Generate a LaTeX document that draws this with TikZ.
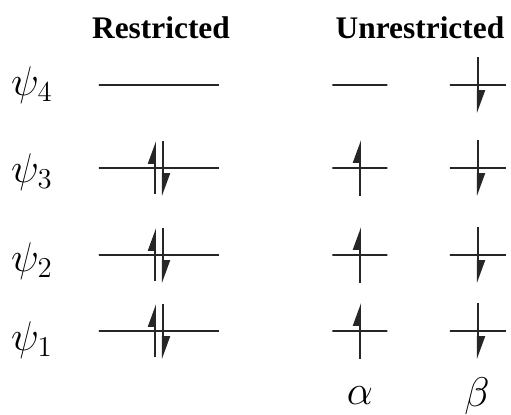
\documentclass[tikz,border=0pt]{standalone}
\usepackage{fontspec}
\setmainfont{Liberation Serif}
\usetikzlibrary{arrows.meta}
\tikzset{
 header/.style={font=\fontsize{15.7}{18}\selectfont\bfseries},
 orblabel/.style={font=\fontsize{20}{24}\selectfont},
 level/.style={draw=black!85, line width=1pt, inner sep=0pt, minimum height=0pt, minimum width=#1},
 spinarrow/.style={-{Triangle[left, length=10pt, width=7pt]}, line width=1pt, draw=black!85}
}

\begin{document}
\begin{tikzpicture}[x=0.5pt, y=-0.5pt]
 \useasboundingbox (0,0) rectangle (511,415);

 \node[header] (restr) at (161,28) {Restricted};
 \node[header] (unrestr) at (420,28) {Unrestricted};

 % orbital levels
 \foreach \i/\y/\ly in {4/85/85, 3/168/172, 2/255/261, 1/331/340} {
  \node[orblabel] (psi\i) at (32,\ly) {$\psi_\i$};
  \node[level=60pt] (r\i) at (159,\y) {};
  \node[level=27.5pt] (a\i) at (360,\y) {};
  \node[level=28pt] (b\i) at (478,\y) {};
 }

 % electrons
 \foreach \i in {3,2,1} {
  \draw[spinarrow] ([xshift=-2pt, yshift=-13pt]r\i.center) -- ([xshift=-2pt, yshift=13.5pt]r\i.center);
  \draw[spinarrow] ([xshift=2pt, yshift=13.5pt]r\i.center) -- ([xshift=2pt, yshift=-14pt]r\i.center);
  \draw[spinarrow] ([yshift=-14pt]a\i.center) -- ([yshift=14pt]a\i.center);
 }
 \foreach \i in {4,3,2,1}
  \draw[spinarrow] ([yshift=14pt]b\i.center) -- ([yshift=-14pt]b\i.center);

 \node[orblabel] (alpha) at (360,396) {$\alpha$};
 \node[orblabel] (beta) at (477,396) {$\beta$};
\end{tikzpicture}
\end{document}
